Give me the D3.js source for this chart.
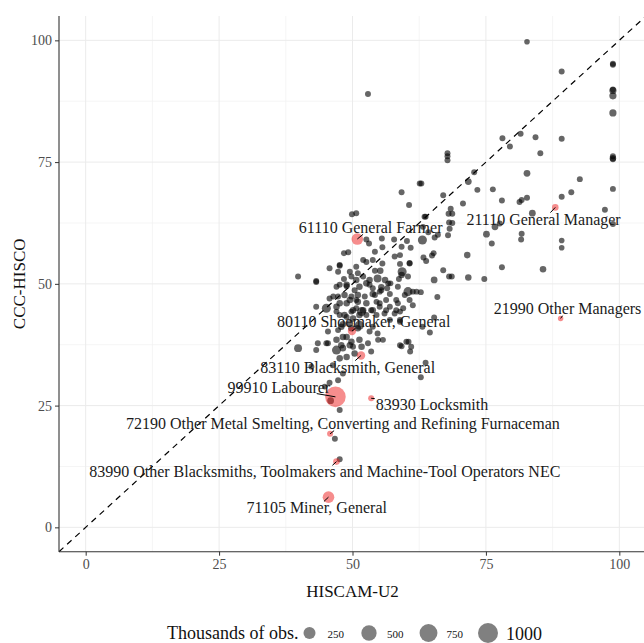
<!DOCTYPE html>
<html>
<head>
<meta charset="utf-8">
<script src="https://cdn.jsdelivr.net/npm/d3@7"></script>
<style>
  body { margin: 0; background: #fff; }
  svg { display: block; font-family: "Liberation Serif", "DejaVu Serif", serif; }
</style>
</head>
<body>
<svg id="chart" width="644" height="643"></svg>
<script>
// ticks de los ejes
const majorTicks = [0, 25, 50, 75, 100]
const minorTicks = [12.5, 37.5, 62.5, 87.5]

// [HISCAM-U2, CCC-HISCO, miles de obs.] leidos a ojo del grafico
const ocupaciones = [
  [52.9,89.0,15],[59.2,68.8,15],[60.6,66.2,15],[49.9,64.3,15],[50.7,64.5,15],[62.6,70.6,15],
  [82.7,99.7,10],[89.2,93.6,15],[98.8,95.2,15],[98.8,95.0,15],[98.8,89.7,40],[98.8,89.9,15],
  [98.8,88.6,40],[98.8,85.1,40],[98.8,76.2,15],[98.8,75.8,25],[98.8,75.6,15],[98.8,69.5,15],
  [67.8,76.8,15],[67.8,76.2,15],[67.8,75.4,15],[78.1,79.9,15],[79.5,78.2,15],[81.5,80.8,15],
  [84.3,80.1,15],[85.2,76.8,15],[89.2,79.8,15],[82.7,72.7,30],[72.8,72.9,15],[71.7,71.0,30],
  [73.4,69.3,15],[76.3,69.4,15],[78.0,67.1,15],[81.3,66.8,15],[81.7,67.2,15],[82.7,67.7,15],
  [70.7,66.5,15],[67.0,68.2,15],[68.4,65.4,15],[68.7,64.4,15],[68.0,64.4,15],[83.7,64.5,30],
  [89.2,67.9,15],[91.0,68.8,15],[92.6,71.5,15],[97.3,65.2,15],[62.9,70.6,15],[63.5,63.8,15],
  [98.8,62.3,15],[75.1,60.2,30],[76.7,61.7,30],[77.6,62.4,15],[76.1,58.3,15],[81.7,60.3,15],
  [81.6,59.1,15],[89.2,58.9,10],[89.2,57.4,10],[71.5,55.9,25],[78.0,53.4,15],[85.7,53.0,25],
  [74.7,51.0,15],[71.7,51.3,25],[68.6,51.5,15],[68.1,51.5,15],[67.0,52.8,15],[65.3,50.8,30],
  [62.8,48.3,15],[65.9,47.3,15],[63.3,55.4,15],[63.8,54.7,15],[64.9,55.8,15],[65.2,56.3,15],
  [63.1,59.0,100],[65.4,59.5,15],[66.0,60.1,15],[67.9,60.0,15],[68.2,61.3,15],[68.7,62.5,15],
  [68.1,62.6,15],[63.7,63.8,15],[63.2,61.7,15],[64.2,60.6,15],[65.3,43.1,15],[63.1,41.2,15],
  [64.5,40.0,15],[63.7,33.8,15],[62.8,30.8,15],
  [49.2,56.5,15],[48.4,56.3,15],[53.1,58.3,15],[52.6,59.1,15],[55.5,59.3,15],[57.8,59.1,15],
  [60.2,58.8,15],[59.2,57.6,15],[60.9,57.4,15],[55.6,57.5,15],[54.2,56.6,15],[53.8,54.9,15],
  [58.9,55.9,15],[57.9,55.6,15],[60.7,54.3,15],[59.3,52.5,100],[55.6,54.2,15],[55.2,52.7,25],
  [54.2,52.7,15],[52.0,54.9,15],[50.7,53.5,15],[49.5,52.5,15],[47.6,53.7,15],[47.3,52.5,15],
  [48.4,51.0,15],[49.8,51.5,15],[50.7,50.8,25],[52.0,51.5,15],[53.2,50.8,25],[54.7,51.1,60],
  [56.1,50.8,25],[57.1,50.1,15],[58.7,51.0,15],[60.4,51.5,15],[39.8,51.5,15],[43.2,50.6,15],
  [47.0,49.4,15],[48.9,49.5,15],[51.3,49.4,25],[52.6,50.1,25],[53.8,49.1,15],[55.4,49.3,25],
  [56.5,49.1,15],[57.0,47.9,15],[55.1,48.4,15],[53.8,47.9,25],[52.3,47.4,15],[51.0,47.7,25],
  [49.8,47.4,15],[48.5,47.7,25],[47.3,47.4,15],[45.7,47.0,15],[45.1,45.0,100],[43.2,45.3,15],
  [47.0,45.3,25],[48.9,46.0,25],[50.7,46.7,15],[52.6,46.0,25],[54.5,46.3,15],[56.3,46.7,15],
  [58.2,46.7,15],[59.8,47.7,15],[61.3,48.4,15],[60.7,46.7,15],[59.5,45.0,15],[58.2,44.6,15],
  [58.9,42.6,15],[57.9,43.9,15],[56.3,44.6,15],[55.1,45.3,15],[53.8,44.6,25],[52.0,44.6,25],
  [50.7,45.0,15],[49.8,44.3,15],[51.3,43.6,25],[52.6,43.6,15],[50.1,42.9,25],[48.9,43.2,15],
  [47.6,43.6,15],[51.3,41.5,100],[48.2,41.7,25],[49.8,40.9,25],[47.3,40.5,15],[45.1,37.8,15],
  [47.0,38.5,25],[48.9,39.1,25],[49.8,38.1,25],[51.7,37.1,25],[50.1,37.1,15],[48.2,36.8,25],
  [47.0,36.4,100],[43.2,36.4,15],[39.8,36.8,60],[53.5,36.1,15],[50.4,35.7,25],[48.9,35.0,25],
  [47.6,34.7,25],[46.3,33.3,15],[48.2,31.6,15],[47.3,30.2,15],[45.7,29.7,15],[44.8,28.9,15],
  [42.3,33.0,15],[45.9,26.0,30],[47.6,24.1,15],[59.2,37.2,15],[60.5,38.1,15],[60.8,36.1,15],
  [55.7,38.5,15],[54.7,39.8,15],[53.8,41.2,15],
  [47.6,53.9,15],[51.0,52.2,15],[52.6,54.5,15],[53.2,49.8,15],[56.7,50.1,15],[55.4,48.7,15],
  [58.9,54.1,15],[60.7,54.2,15],[59.2,51.8,25],[58.5,49.4,15],[60.4,48.4,100],[62.0,48.4,15],
  [54.2,47.7,15],[50.4,48.7,15],[48.9,49.8,25],[47.6,49.8,15],[46.4,47.4,15],[43.2,50.4,15],
  [47.6,46.0,25],[49.5,46.7,25],[51.0,46.3,25],[50.1,44.6,25],[51.7,44.3,100],[53.5,44.6,15],
  [55.1,46.0,15],[57.0,45.3,15],[58.5,46.0,15],[61.3,45.6,15],[58.9,44.3,15],[56.0,43.9,15],
  [54.5,43.6,15],[48.5,43.6,25],[47.0,44.3,15],[49.5,41.9,25],[51.0,40.9,25],[47.9,41.2,25],
  [48.2,39.1,25],[51.3,38.5,25],[49.5,37.4,25],[53.2,40.2,15],[54.8,38.5,15],[52.9,37.8,15],
  [47.9,37.4,25],[45.4,40.2,15],[45.4,37.8,15],[43.5,37.8,15],[58.9,42.2,15],[57.0,42.6,15],
  [60.1,38.1,15],[58.9,37.4,15],[61.0,37.1,15],[45.7,53.2,15],
  [46.7,18.2,15],[47.6,14.0,15]
]

// las ocupaciones destacadas en rojo
const etiquetas = [
  "61110 General Farmer", "21110 General Manager", "21990 Other Managers",
  "80110 Shoemaker, General", "83110 Blacksmith, General", "99910 Labourer",
  "83930 Locksmith", "72190 Other Metal Smelting, Converting and Refining Furnaceman",
  "83990 Other Blacksmiths, Toolmakers and Machine-Tool Operators NEC", "71105 Miner, General"
]
const etiqHiscam = [50.9, 88.0, 89.0, 49.9, 51.6, 46.8, 53.5, 45.8, 47.0, 45.5]
const etiqCcc = [59.2, 65.7, 42.9, 40.3, 35.3, 26.8, 26.5, 19.2, 13.5, 6.2]
const etiqMiles = [226, 26, 8, 75, 75, 1075, 16, 16, 26, 226]
// donde quedan los textos (tipo ggrepel), en unidades de los datos
const textoX = [53.4, 85.8, 90.3, 52.1, 49.1, 36.2, 64.9, 48.2, 44.8, 43.3]
const textoY = [61.5, 63.3, 45.0, 42.2, 32.9, 28.8, 25.3, 21.4, 11.4, 4.0]

const legendValues = [250, 500, 750, 1000]

const svg = d3.select("#chart")

const x = d3.scaleLinear().domain([-5, 105]).range([59, 646])
const y = d3.scaleLinear().domain([-5, 105]).range([551.7, 16])
const size = d3.scaleSqrt().domain([0, 1000]).range([2, 10])

// grilla
const grid = svg.append("g")
grid.selectAll(".vmin").data(minorTicks).join("line")
  .attr("x1", d => x(d)).attr("x2", d => x(d))
  .attr("y1", y(105)).attr("y2", y(-5))
  .attr("stroke", "#f1f1f1").attr("stroke-width", 0.7)
grid.selectAll(".hmin").data(minorTicks).join("line")
  .attr("y1", d => y(d)).attr("y2", d => y(d))
  .attr("x1", x(-5)).attr("x2", x(105))
  .attr("stroke", "#f1f1f1").attr("stroke-width", 0.7)
grid.selectAll(".vmaj").data(majorTicks).join("line")
  .attr("x1", d => x(d)).attr("x2", d => x(d))
  .attr("y1", y(105)).attr("y2", y(-5))
  .attr("stroke", "#ebebeb").attr("stroke-width", 1)
grid.selectAll(".hmaj").data(majorTicks).join("line")
  .attr("y1", d => y(d)).attr("y2", d => y(d))
  .attr("x1", x(-5)).attr("x2", x(105))
  .attr("stroke", "#ebebeb").attr("stroke-width", 1)

// la diagonal 45 grados
svg.append("line")
  .attr("x1", x(-5)).attr("y1", y(-5))
  .attr("x2", x(105)).attr("y2", y(105))
  .attr("stroke", "#000").attr("stroke-width", 1.2)
  .attr("stroke-dasharray", "6,5")

svg.append("g").selectAll("circle")
  .data(ocupaciones)
  .join("circle")
  .attr("cx", d => x(d[0]))
  .attr("cy", d => y(d[1]))
  .attr("r", d => size(d[2]))
  .attr("fill", "#000")
  .attr("opacity", 0.6)

const destacados = etiquetas.map((name, i) => ({
  name, hx: etiqHiscam[i], cy: etiqCcc[i], miles: etiqMiles[i], tx: textoX[i], ty: textoY[i]
}))

svg.append("g").selectAll("circle")
  .data(destacados)
  .join("circle")
  .attr("cx", d => x(d.hx))
  .attr("cy", d => y(d.cy))
  .attr("r", d => size(d.miles))
  .attr("fill", "#ee1c1c")
  .attr("opacity", 0.5)

const segs = svg.append("g")
const labels = svg.append("g").selectAll("text")
  .data(destacados)
  .join("text")
  .attr("x", d => x(d.tx))
  .attr("y", d => y(d.ty))
  .attr("text-anchor", "middle")
  .attr("dominant-baseline", "central")
  .attr("font-size", 16)
  .attr("fill", "#1a1a1a")
  .text(d => d.name)

// segmentos del punto al borde del texto (solo si hay distancia)
labels.each(function(d) {
  const b = this.getBBox()
  const cxl = b.x + b.width / 2, cyl = b.y + b.height / 2
  const px = x(d.hx), py = y(d.cy)
  const dx = px - cxl, dy = py - cyl
  const hw = b.width / 2 + 1, hh = b.height / 2 - 2
  if (Math.abs(dx) <= hw && Math.abs(dy) <= hh) return
  const t = Math.min(dx === 0 ? Infinity : hw / Math.abs(dx), dy === 0 ? Infinity : hh / Math.abs(dy))
  const ex = cxl + dx * t, ey = cyl + dy * t
  if (Math.hypot(px - ex, py - ey) < 3) return
  segs.append("line")
    .attr("x1", px).attr("y1", py).attr("x2", ex).attr("y2", ey)
    .attr("stroke", "#000").attr("stroke-width", 1)
})

// ejes
const xAxis = svg.append("g")
  .attr("transform", `translate(0, ${y(-5)})`)
  .call(d3.axisBottom(x).tickValues(majorTicks).tickSize(4).tickPadding(3))
const yAxis = svg.append("g")
  .attr("transform", `translate(${x(-5)}, 0)`)
  .call(d3.axisLeft(y).tickValues(majorTicks).tickSize(4).tickPadding(3))

for (const ax of [xAxis, yAxis]) {
  ax.attr("font-family", null).attr("font-size", null)
  ax.select(".domain").attr("stroke", "#333").attr("stroke-width", 1.1)
  ax.selectAll(".tick line").attr("stroke", "#333").attr("stroke-width", 1)
  ax.selectAll(".tick text")
    .attr("font-size", 14)
    .attr("fill", "#4d4d4d")
}
// recortar la linea del eje (sin los topes de d3)
xAxis.select(".domain").attr("d", `M${x(-5)},0H${x(105)}`)
yAxis.select(".domain").attr("d", `M0,${y(-5)}V${y(105)}`)

svg.append("text")
  .attr("x", (x(-5) + x(105)) / 2)
  .attr("y", 591)
  .attr("text-anchor", "middle")
  .attr("dominant-baseline", "central")
  .attr("font-size", 17)
  .attr("fill", "#111")
  .text("HISCAM-U2")

svg.append("text")
  .attr("transform", `translate(19, ${(y(-5) + y(105)) / 2}) rotate(-90)`)
  .attr("text-anchor", "middle")
  .attr("dominant-baseline", "central")
  .attr("font-size", 17)
  .attr("fill", "#111")
  .text("CCC-HISCO")

// leyenda de tamanos
const legend = svg.append("g")
const legY = 633
const titulo = legend.append("text")
  .attr("x", 167).attr("y", legY)
  .attr("dominant-baseline", "central")
  .attr("font-size", 18)
  .attr("fill", "#111")
  .text("Thousands of obs.")
let cursor = 167 + titulo.node().getComputedTextLength()
legendValues.forEach((v, i) => {
  const slot = 20
  legend.append("circle")
    .attr("cx", cursor + slot / 2 + 1)
    .attr("cy", legY)
    .attr("r", size(v))
    .attr("fill", "#808080")
  const lab = legend.append("text")
    .attr("x", cursor + slot + 9)
    .attr("y", legY + 1)
    .attr("dominant-baseline", "central")
    .attr("font-size", v === 1000 ? 18 : 11)
    .attr("fill", "#111")
    .text(v)
  cursor = cursor + slot + 9 + lab.node().getComputedTextLength() + 14
})
</script>
</body>
</html>
